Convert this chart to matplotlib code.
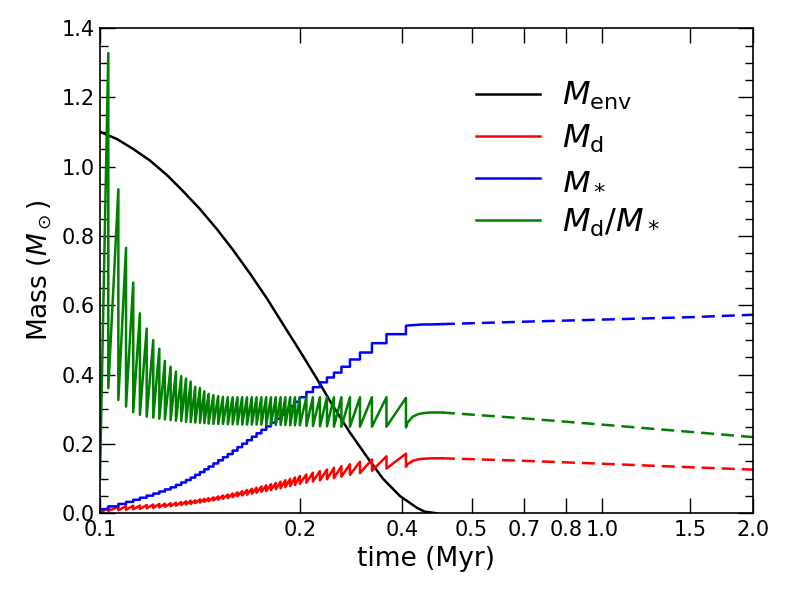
import numpy as np
import matplotlib
matplotlib.use('Agg')
import matplotlib.pyplot as plt
from matplotlib.ticker import FixedLocator, NullFormatter

# envelope mass (smooth)
env_t = [0.1, 0.1081, 0.1163, 0.1258, 0.1360, 0.1463, 0.1582, 0.1710,
         0.1841, 0.1990, 0.2151, 0.2315, 0.2503, 0.2706, 0.2912, 0.3148,
         0.3403, 0.3662, 0.3959, 0.4280, 0.4430, 0.4695]
env_m = [1.101, 1.080, 1.052, 1.018, 0.976, 0.930, 0.878, 0.820,
         0.760, 0.692, 0.620, 0.546, 0.468, 0.388, 0.310, 0.233,
         0.163, 0.100, 0.050, 0.016, 0.005, 0.0]

# start of the run
t_start = 0.1
ratio_start = 0.10
mstar_start = 0.012

# accretion bursts: time, Md/M* just before and just after, M* after the burst
burst_t = [0.1039, 0.1088, 0.1127, 0.1165, 0.1201, 0.1239, 0.1277, 0.1313,
           0.1347, 0.1383, 0.1417, 0.1452, 0.1484, 0.1516, 0.1548, 0.1582,
           0.1614, 0.1646, 0.1683, 0.1720, 0.1758, 0.1798, 0.1838, 0.1879,
           0.1920, 0.1963, 0.2007, 0.2051, 0.2097, 0.2144, 0.2191, 0.2240,
           0.2290, 0.2341, 0.2393, 0.2446, 0.2501, 0.2578, 0.2656, 0.2743,
           0.2833, 0.2925, 0.3027, 0.3148, 0.3296, 0.3482, 0.3722, 0.4070]
ratio_peak = [1.328, 0.935, 0.766, 0.666, 0.577, 0.533, 0.500, 0.475,
              0.440, 0.423, 0.409, 0.396, 0.389, 0.380, 0.365, 0.362,
              0.352, 0.345, 0.341, 0.338, 0.336, 0.335, 0.335, 0.335,
              0.335, 0.335, 0.335, 0.335, 0.335, 0.335, 0.335, 0.335,
              0.335, 0.335, 0.335, 0.335, 0.335, 0.335, 0.335, 0.335,
              0.335, 0.335, 0.335, 0.335, 0.335, 0.335, 0.335, 0.333]
ratio_trough = [0.361, 0.327, 0.308, 0.292, 0.284, 0.279, 0.276, 0.273,
                0.271, 0.269, 0.267, 0.266, 0.264, 0.263, 0.262, 0.261,
                0.260, 0.259, 0.258, 0.258, 0.258, 0.257, 0.257, 0.257,
                0.256, 0.256, 0.256, 0.256, 0.256, 0.255, 0.255, 0.255,
                0.255, 0.255, 0.254, 0.254, 0.254, 0.252, 0.252, 0.251,
                0.251, 0.250, 0.250, 0.250, 0.250, 0.250, 0.250, 0.248]
mstar_after = [0.020, 0.027, 0.033, 0.039, 0.045, 0.051, 0.057, 0.063,
               0.069, 0.075, 0.082, 0.089, 0.096, 0.103, 0.111, 0.119,
               0.127, 0.135, 0.144, 0.153, 0.162, 0.171, 0.181, 0.191,
               0.201, 0.211, 0.221, 0.231, 0.241, 0.251, 0.262, 0.273,
               0.285, 0.297, 0.309, 0.322, 0.335, 0.350, 0.364, 0.378,
               0.392, 0.406, 0.423, 0.444, 0.464, 0.491, 0.517, 0.541]

# after the last burst (solid)
post_t = [0.41, 0.42, 0.43, 0.44, 0.455, 0.48]
post_ratio = [0.262, 0.279, 0.286, 0.289, 0.291, 0.291]
post_mstar = [0.542, 0.543, 0.544, 0.545, 0.545, 0.546]

# extrapolation (dashed)
tail_t = [0.48, 0.7, 1.0, 1.5, 2.0]
tail_ratio = [0.291, 0.274, 0.256, 0.235, 0.220]
tail_mstar = [0.546, 0.553, 0.559, 0.566, 0.573]

# build the sawtooth / staircase vertices
t_v = [t_start]
r_v = [ratio_start]
m_v = [mstar_start]
m_prev = mstar_start
for tb, rp, rt, ma in zip(burst_t, ratio_peak, ratio_trough, mstar_after):
    t_v += [tb, tb]
    r_v += [rp, rt]
    m_v += [m_prev, ma]
    m_prev = ma
t_v = np.array(t_v + post_t)
r_v = np.array(r_v + post_ratio)
m_v = np.array(m_v + post_mstar)
d_v = r_v * m_v  # disk mass = (Md/M*) * M*

tail_t = np.array(tail_t)
tail_ratio = np.array(tail_ratio)
tail_mstar = np.array(tail_mstar)
tail_disk = tail_ratio * tail_mstar

fig = plt.figure(figsize=(7.89, 5.92), dpi=100)
ax = fig.add_axes([0.1267, 0.1329, 0.8277, 0.8195])

lw = 1.8
dash = (5.2, 2.8)
ax.plot(env_t, env_m, color='k', lw=lw, label=r'$M_{\rm env}$')
ax.plot(t_v, d_v, color='r', lw=lw, label=r'$M_{\rm d}$')
ax.plot(t_v, m_v, color='b', lw=lw, label=r'$M_*$')
ax.plot(t_v, r_v, color='g', lw=lw, label=r'$M_{\rm d}/M_*$')
ax.plot(tail_t, tail_disk, color='r', lw=lw, dashes=dash)
ax.plot(tail_t, tail_mstar, color='b', lw=lw, dashes=dash)
ax.plot(tail_t, tail_ratio, color='g', lw=lw, dashes=dash)

ax.set_xscale('log')
ax.set_xlim(0.1, 2.0)
ax.set_ylim(0, 1.4)

xt = [0.1, 0.25, 0.4, 0.55, 0.7, 0.85, 1.0, 1.5, 2.0]
xl = ['0.1', '0.2', '0.4', '0.5', '0.7', '0.8', '1.0', '1.5', '2.0']
ax.xaxis.set_major_locator(FixedLocator(xt))
ax.set_xticklabels(xl)
ax.xaxis.set_minor_locator(FixedLocator([0.1, 1.0, 2.0]))
ax.xaxis.set_minor_formatter(NullFormatter())
ax.set_yticks(np.arange(0, 1.41, 0.2))
ax.set_yticklabels(['%.1f' % v for v in np.arange(0, 1.41, 0.2)])
ax.yaxis.set_minor_locator(FixedLocator(np.arange(0, 1.401, 0.05)))

ax.tick_params(which='both', direction='in', top=True, right=True,
               labelsize=15)
ax.tick_params(axis='x', which='both', pad=5)
ax.tick_params(which='major', length=10.5, width=1.0)
ax.tick_params(axis='y', which='minor', length=6, width=1.0)
ax.tick_params(axis='x', which='minor', length=10.5, width=2.2)
for s in ax.spines.values():
    s.set_linewidth(1.2)

ax.set_xlabel('time (Myr)', fontsize=19, labelpad=4)
ax.set_ylabel(r'Mass ($M_\odot$)', fontsize=19, labelpad=6)

leg = ax.legend(loc='upper left', bbox_to_anchor=(0.551, 0.926), frameon=False,
                borderpad=0, fontsize=23, handlelength=2.0, handletextpad=0.7,
                labelspacing=0.32)

fig.savefig('out.png', dpi=100)
